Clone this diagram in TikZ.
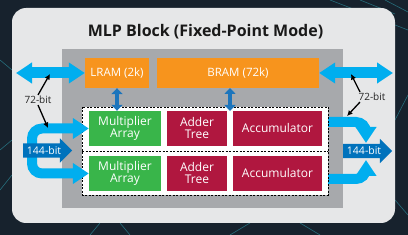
\documentclass[tikz,border=0pt]{standalone}
\usepackage{fontspec}
\setmainfont{Open Sans}
\usetikzlibrary{arrows.meta,shapes.arrows,calc}
\definecolor{bgdark}{HTML}{17222D}
\definecolor{netteal}{HTML}{2C8C9C}
\definecolor{panel}{HTML}{E6E7E8}
\definecolor{blockgray}{HTML}{A7A9AC}
\definecolor{ramorange}{HTML}{F7941D}
\definecolor{mulgreen}{HTML}{39B54A}
\definecolor{addred}{HTML}{B0173F}
\definecolor{lightblue}{HTML}{00AEEF}
\definecolor{darkblue}{HTML}{0072BC}
\definecolor{midblue}{HTML}{1C75BC}
\tikzset{
  ramblock/.style={fill=ramorange, text=white, minimum height=30pt, inner sep=0pt, font=\fontsize{11.5}{11.5}\selectfont},
  unitbox/.style={text=white, minimum height=35pt, inner sep=0pt, align=center, font=\fontsize{12}{12}\selectfont},
  mulbox/.style={unitbox, fill=mulgreen, minimum width=72pt},
  addbox/.style={unitbox, fill=addred, minimum width=60pt},
  accbox/.style={unitbox, fill=addred, minimum width=89pt},
  flow/.style={draw=lightblue, line width=10pt, rounded corners=10pt, -{Triangle[length=16pt,width=20pt]}},
  busflow/.style={draw=lightblue, line width=11pt, {Triangle[length=16pt,width=20pt]}-{Triangle[length=16pt,width=20pt]}},
  vflow/.style={draw=midblue, line width=4.5pt, {Triangle[length=6pt,width=11pt]}-{Triangle[length=6pt,width=11pt]}},
  buswide/.style={single arrow, fill=darkblue, text=white, font=\fontsize{10.5}{10.5}\selectfont, inner xsep=2pt, inner ysep=3pt, minimum height=49pt, single arrow head extend=5pt},
  widthlbl/.style={text=black!85, font=\fontsize{10}{10}\selectfont, inner sep=1pt},
  ptr/.style={draw=black, line width=1.3pt, -{Latex[length=5.5pt,width=5.5pt]}},
  netline/.style={draw=netteal, line width=0.6pt, opacity=0.7}
}
\begin{document}
\begin{tikzpicture}[x=1pt,y=-1pt]
\useasboundingbox (0,0) rectangle (408,235);
\fill[bgdark] (0,0) rectangle (408,235);
% background network lines
\draw[netline] (330,0) -- (408,30);
\draw[netline] (360,0) -- (395,14);
\draw[netline] (385,0) -- (408,12);
\draw[netline] (0,150) -- (12,140);
\draw[netline] (0,190) -- (12,175);
\draw[netline] (0,60) -- (12,70);
\draw[netline] (90,235) -- (100,223);
\draw[netline] (130,235) -- (120,223);
\draw[netline] (230,235) -- (250,223);
\draw[netline] (300,223) -- (320,235);
\draw[netline] (395,120) -- (408,95);
\draw[netline] (395,200) -- (408,215);
% panel
\fill[panel, rounded corners=14pt] (12,8) rectangle (395,223);
\node[font=\fontsize{16}{16}\selectfont\bfseries, text=black!90] (title) at (205.5,32) {MLP Block (Fixed-Point Mode)};
% gray block
\fill[blockgray] (62,49) rectangle (343,208);
% RAMs
\node[ramblock, minimum width=64pt] (lram) at (117,73) {LRAM (2k)};
\node[ramblock, minimum width=162pt] (bram) at (238,73) {BRAM (72k)};
% flows (behind dashed box)
\coordinate (lsplit) at (32,151);
\coordinate (rtop) at (322,122);
\coordinate (rbot) at (322,179);
\coordinate (rjoin1) at (366,143);
\coordinate (rjoin2) at (366,160);
\draw[flow] (rtop) -| (rjoin1);
\draw[flow] (rbot) -| (rjoin2);
% dashed region
\draw[fill=white, dashed, line width=0.6pt, dash pattern=on 2pt off 1.5pt] (82,107) rectangle (328,195);
\draw[dashed, line width=0.6pt, dash pattern=on 2pt off 1.5pt] (82,151) -- (328,151);
% units
\node[mulbox] (mult1) at (125,128.5) {Multiplier\\Array};
\node[addbox] (add1) at (197,128.5) {Adder\\Tree};
\node[accbox] (acc1) at (277.5,128.5) {Accumulator};
\node[mulbox] (mult2) at (125,173.5) {Multiplier\\Array};
\node[addbox] (add2) at (197,173.5) {Adder\\Tree};
\node[accbox] (acc2) at (277.5,173.5) {Accumulator};
% left input flows
\draw[flow] (lsplit) |- (mult1.west);
\draw[flow] (lsplit) |- (mult2.west);
% RAM to array links
\draw[vflow] (lram.south) -- (mult1.north -| lram.south);
\coordinate (bv1) at (230,88);
\coordinate (bv2) at (230,111);
\draw[vflow] (bv1) -- (bv2);
% side buses
\coordinate (lbusend) at (16,73);
\coordinate (rbusend) at (393,73);
\draw[busflow] (lbusend) -- (lram.west);
\draw[busflow] (bram.east) -- (rbusend);
% 144-bit wide arrows
\node[buswide, anchor=tail] (inbus) at (23,150.5) {144-bit};
\node[buswide, anchor=tail] (outbus) at (343,151) {144-bit};
% 72-bit labels
\node[widthlbl] (l72) at (38,100) {72-bit};
\node[widthlbl] (r72) at (372,97) {72-bit};
\coordinate (lp1) at (50,74);
\coordinate (lp2) at (48,128);
\coordinate (rp1) at (351,74);
\coordinate (rp2) at (347,116);
\draw[ptr] (l72.north) -- (lp1);
\draw[ptr] (l72.south) -- (lp2);
\draw[ptr] ($(r72.north)+(-12,0)$) -- (rp1);
\draw[ptr] ($(r72.south)+(-12,0)$) -- (rp2);
\end{tikzpicture}
\end{document}
